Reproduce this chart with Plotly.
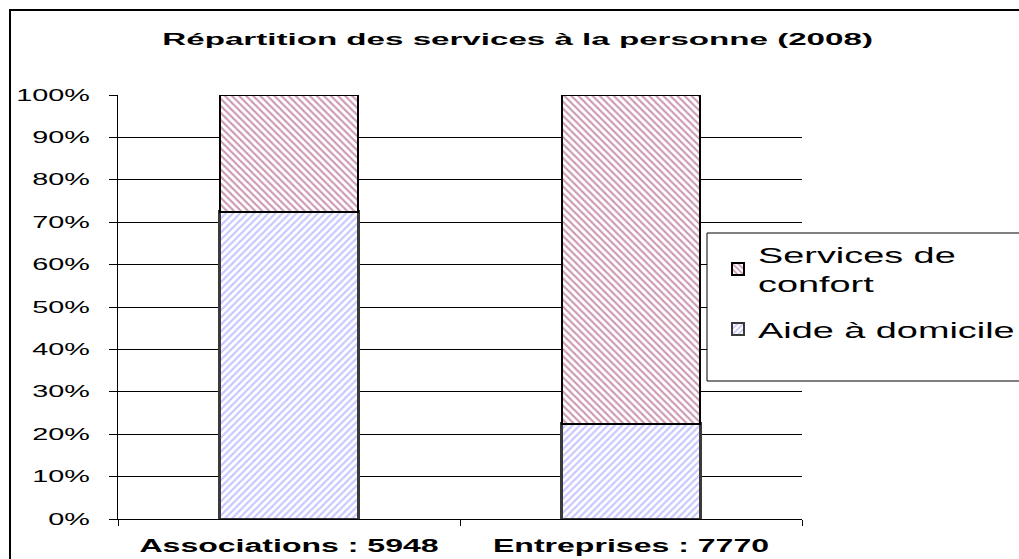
import plotly.graph_objects as go

categories = ["Associations : 5948", "Entreprises : 7770"]
aide = [0.725, 0.225]
confort = [0.275, 0.775]
y_ticks = [0, 0.1, 0.2, 0.3, 0.4, 0.5, 0.6, 0.7, 0.8, 0.9, 1.0]
title = "Répartition des services à la personne (2008)"

FONT = "Liberation Sans, Arial, sans-serif"

fig = go.Figure()
fig.add_trace(go.Bar(
    x=categories, y=aide, name="Aide à domicile", width=0.406,
    legendgroup="a", legendrank=2,
    marker=dict(color="white", line=dict(color="#3a3a3a", width=2.5),
                pattern=dict(shape="/", fgcolor="#8f8fff", bgcolor="white", size=5, solidity=0.42)),
))
fig.add_trace(go.Bar(
    x=categories, y=confort, name="Services de<br>confort", width=0.406,
    legendgroup="b", legendrank=1,
    marker=dict(color="white", line=dict(color="black", width=2),
                pattern=dict(shape="\\", fgcolor="#993366", bgcolor="white", size=5, solidity=0.42)),
))

L, R, T, B = 118, 1019 - 802, 95, 559 - 519
W, H = 1019 - L - R, 559 - T - B

def px_x(p):
    return (p - L) / W

def px_y(p):
    return (559 - B - p) / H

fig.update_layout(
    barmode="stack",
    width=1019, height=559,
    margin=dict(l=L, r=R, t=T, b=B, autoexpand=False),
    paper_bgcolor="white", plot_bgcolor="white",
    font=dict(family=FONT, color="black", size=16),
    showlegend=True,
    legend=dict(
        x=px_x(718), y=px_y(234), xanchor="left", yanchor="top",
        borderwidth=0, bgcolor="rgba(0,0,0,0)",
        traceorder="grouped", tracegroupgap=14,
        font=dict(size=22, family=FONT),
        itemsizing="constant",
    ),
    xaxis=dict(
        showline=True, linecolor="black", linewidth=1,
        ticks="outside", tickson="boundaries", ticklen=6, tickcolor="black",
        tickfont=dict(size=18, family=FONT, weight="bold"),
        ticklabelstandoff=10,
        showgrid=False,
    ),
    yaxis=dict(
        range=[0, 1], tickvals=y_ticks, tickformat=".0%",
        showline=True, linecolor="black", linewidth=1,
        ticks="outside", ticklen=8, tickcolor="black",
        ticklabelstandoff=16,
        showgrid=True, gridcolor="black", gridwidth=1,
        zeroline=False, tickfont=dict(size=16, family=FONT),
    ),
    shapes=[
        dict(type="rect", xref="paper", yref="paper",
             x0=px_x(10), x1=px_x(1040), y0=px_y(580), y1=px_y(10),
             line=dict(color="black", width=2), layer="below"),
        dict(type="rect", xref="paper", yref="paper",
             x0=px_x(707), x1=px_x(1040), y0=px_y(381), y1=px_y(233),
             line=dict(color="black", width=1), fillcolor="white", layer="above"),
    ],
    annotations=[dict(text=title, xref="paper", yref="paper",
                      x=px_x(517), y=px_y(39), xanchor="center", yanchor="middle",
                      showarrow=False, font=dict(size=16, family=FONT, weight="bold"))],
)

# the reference text is horizontally stretched; reproduce with SVG textLength
post_js = """
var s = document.createElement('style');
s.textContent = 'body{margin:0;}';
document.head.appendChild(s);
function stretchEl(el, f){
  var n = el.getComputedTextLength();
  if (n > 0) { el.setAttribute('textLength', n * f); el.setAttribute('lengthAdjust', 'spacingAndGlyphs'); }
}
function stretch(sel, f){
  document.querySelectorAll(sel).forEach(function(t){
    var lines = t.querySelectorAll('tspan.line');
    if (lines.length) { lines.forEach(function(l){ stretchEl(l, f); }); }
    else { stretchEl(t, f); }
  });
}
stretch('.ytick text', 1.8);
stretch('.xtick text', 1.78);
stretch('.annotation-text', 2.07);
stretch('.legendtext', 1.72);
document.querySelectorAll('.legend [clip-path]').forEach(function(e){ e.removeAttribute('clip-path'); });
"""

fig.write_html("out.html", post_script=post_js, config={"displayModeBar": False})
